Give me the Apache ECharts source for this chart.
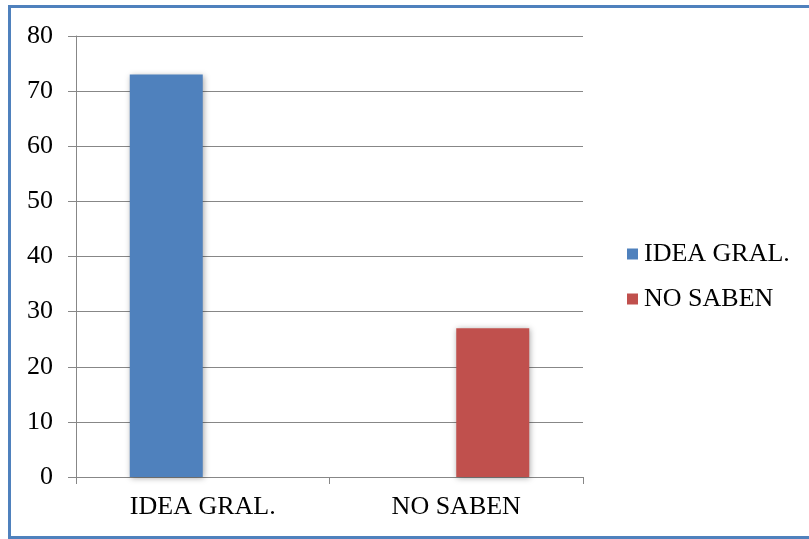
<!DOCTYPE html>
<html>
<head>
<meta charset="utf-8">
<script src="https://cdn.jsdelivr.net/npm/echarts@6/dist/echarts.min.js"></script>
<style>
  html, body { margin: 0; padding: 0; background: #fff; overflow: hidden; }
  #chart { position: absolute; left: 0; top: 0; width: 809px; height: 539px; }
  #frame { position: absolute; left: 8px; top: 5px; width: 820px; height: 528px;
           border: 3px solid #4f81bd; pointer-events: none; }
</style>
</head>
<body>
<div id="chart"></div>
<div id="frame"></div>
<script>
const categories = ['IDEA GRAL.', 'NO SABEN'];
const ideaGral = [73, null];
const noSaben = [null, 27];

const font = 'Liberation Serif, Times New Roman, serif';
const gray = '#878787';

const chart = echarts.init(document.getElementById('chart'));
chart.setOption({
  animation: false,
  textStyle: { fontFamily: font },
  grid: { left: 76, right: 226, top: 36, bottom: 62 },
  legend: {
    orient: 'vertical',
    left: 622,
    top: 236,
    itemWidth: 11,
    itemHeight: 11,
    itemGap: 19,
    icon: 'rect',
    textStyle: { fontFamily: font, fontSize: 26, color: '#000', padding: [0, 0, 0, 1] },
    data: ['IDEA GRAL.', 'NO SABEN']
  },
  xAxis: {
    type: 'category',
    data: categories,
    axisLine: { lineStyle: { color: gray, width: 1 } },
    axisTick: { show: true, length: 7, lineStyle: { color: gray } },
    axisLabel: { color: '#000', fontSize: 26, fontFamily: font, margin: 17 }
  },
  yAxis: {
    type: 'value',
    min: 0,
    max: 80,
    interval: 10,
    axisLine: { show: true, lineStyle: { color: gray, width: 1 } },
    axisTick: { show: true, length: 8, lineStyle: { color: gray } },
    splitLine: { lineStyle: { color: gray, width: 1 } },
    axisLabel: { color: '#000', fontSize: 26, fontFamily: font, margin: 23 }
  },
  series: [
    {
      name: 'IDEA GRAL.',
      type: 'bar',
      data: ideaGral,
      barWidth: 73,
      barGap: '0%',
      itemStyle: {
        color: '#4f81bd',
        shadowBlur: 6,
        shadowColor: 'rgba(0,0,0,0.35)',
        shadowOffsetX: 1,
        shadowOffsetY: 1
      }
    },
    {
      name: 'NO SABEN',
      type: 'bar',
      data: noSaben,
      barWidth: 73,
      barGap: '0%',
      itemStyle: {
        color: '#c0504d',
        shadowBlur: 6,
        shadowColor: 'rgba(0,0,0,0.35)',
        shadowOffsetX: 1,
        shadowOffsetY: 1
      }
    }
  ]
});
</script>
</body>
</html>
